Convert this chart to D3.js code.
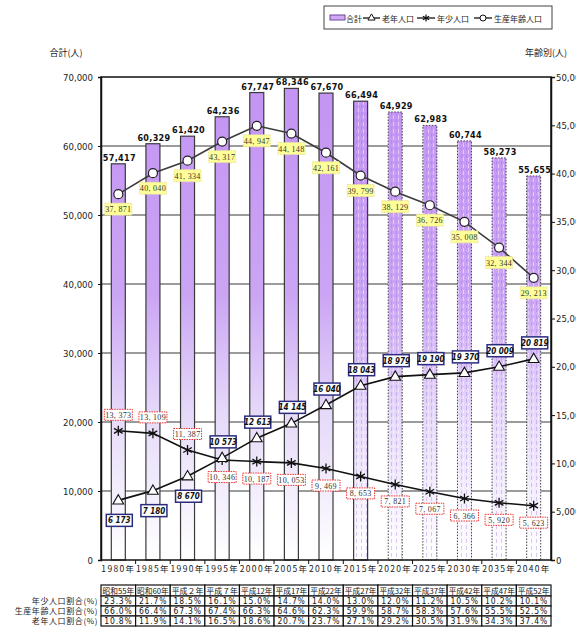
<!DOCTYPE html>
<html>
<head>
<meta charset="utf-8">
<script src="https://cdn.jsdelivr.net/npm/d3@7"></script>
<style>
  html, body { margin: 0; padding: 0; background: #fff; }
  svg { display: block; }
</style>
</head>
<body>
<svg id="chart" width="576" height="627"></svg>
<script>
// Census / projection years
const years = ["1980","1985","1990","1995","2000","2005","2010","2015","2020","2025","2030","2035","2040"];
const eraLabels = ["昭和55年","昭和60年","平成２年","平成７年","平成12年","平成17年","平成22年","平成27年","平成32年","平成37年","平成42年","平成47年","平成52年"];
// Population counts (persons)
const total   = [57417, 60329, 61420, 64236, 67747, 68346, 67670, 66494, 64929, 62983, 60744, 58273, 55655];
const working = [37871, 40040, 41334, 43317, 44947, 44148, 42161, 39799, 38129, 36726, 35008, 32344, 29213];
const young   = [13373, 13109, 11387, 10346, 10187, 10053, 9469, 8653, 7821, 7067, 6366, 5920, 5623];
const old     = [6173, 7180, 8670, 10573, 12613, 14145, 16040, 18043, 18979, 19190, 19370, 20009, 20819];
// Shares (%)
const youngPct   = [23.3, 21.7, 18.5, 16.1, 15.0, 14.7, 14.0, 13.0, 12.0, 11.2, 10.5, 10.2, 10.1];
const workingPct = [66.0, 66.4, 67.3, 67.4, 66.3, 64.6, 62.3, 59.9, 58.7, 58.3, 57.6, 55.5, 52.5];
const oldPct     = [10.8, 11.9, 14.1, 16.5, 18.6, 20.7, 23.7, 27.1, 29.2, 30.5, 31.9, 34.3, 37.4];
const rowLabels  = ["年少人口割合(%)", "生産年齢人口割合(%)", "老年人口割合(%)"];
const leftTicks  = [0, 10000, 20000, 30000, 40000, 50000, 60000, 70000];
const rightTicks = [0, 5000, 10000, 15000, 20000, 25000, 30000, 35000, 40000, 45000, 50000];
const firstTexturedYear = "2015";
const firstProjectedYear = "2020";

const svg = d3.select("#chart");
const L = 101, R = 551, T = 77, B = 560;
const jp = "'Noto Sans CJK JP', sans-serif";
const narrow = "'Liberation Sans Narrow', 'DejaVu Sans Condensed', 'Liberation Sans', sans-serif";
const serif = "'Liberation Serif', 'DejaVu Serif', serif";

const x = d3.scaleBand().domain(years).range([L, R]);
const yL = d3.scaleLinear().domain([0, 70000]).range([B, T]);
const yR = d3.scaleLinear().domain([0, 50000]).range([B, T]);
const cx = d => x(d) + x.bandwidth() / 2;
const fmt = d3.format(",");

const defs = svg.append("defs");
const grad = defs.append("linearGradient").attr("id", "barGrad")
  .attr("gradientUnits", "userSpaceOnUse").attr("x1", 0).attr("y1", T).attr("x2", 0).attr("y2", B);
[[0, "#c393f3"], [0.45, "#cba5f4"], [0.7, "#e6daf9"], [1, "#ffffff"]].forEach(([o, c]) =>
  grad.append("stop").attr("offset", o).attr("stop-color", c));
const pat = defs.append("pattern").attr("id", "streaks").attr("patternUnits", "userSpaceOnUse")
  .attr("width", 5).attr("height", 7);
pat.append("rect").attr("x", 1).attr("y", 0).attr("width", 1).attr("height", 4).attr("fill", "#9c6ae0").attr("opacity", 0.35);
pat.append("rect").attr("x", 3).attr("y", 3).attr("width", 1).attr("height", 4).attr("fill", "#ffffff").attr("opacity", 0.45);

// Plot background and horizontal grid
svg.append("rect").attr("x", L).attr("y", T).attr("width", R - L).attr("height", B - T).attr("fill", "#fff");
svg.append("g").selectAll("line").data(leftTicks.filter(t => t > 0 && t < 70000)).join("line")
  .attr("x1", L).attr("x2", R).attr("y1", d => yL(d)).attr("y2", d => yL(d))
  .attr("stroke", "#7a7a7a").attr("stroke-width", 1.5);

// Total population bars
const bw = 14;
const bars = svg.append("g");
years.forEach((yr, i) => {
  const bx = cx(yr) - bw / 2, by = yL(total[i]), bh = B - by;
  bars.append("rect").attr("x", bx).attr("y", by).attr("width", bw).attr("height", bh).attr("fill", "url(#barGrad)");
  if (+yr >= +firstTexturedYear) {
    bars.append("rect").attr("x", bx).attr("y", by).attr("width", bw).attr("height", bh).attr("fill", "url(#streaks)");
  }
  const projected = +yr >= +firstProjectedYear;
  bars.append("rect").attr("x", bx).attr("y", by).attr("width", bw).attr("height", bh)
    .attr("fill", "none").attr("stroke", projected ? "#444" : "#3a3a3a")
    .attr("stroke-width", projected ? 1 : 1.2)
    .attr("stroke-dasharray", projected ? "1.5,1.5" : null);
  bars.append("text").attr("x", cx(yr) + 1).attr("y", by - 3).attr("text-anchor", "middle")
    .attr("font-family", narrow).attr("font-weight", "bold").attr("font-size", 9)
    .attr("letter-spacing", 0.3).attr("fill", "#111").text(fmt(total[i]));
});

// Plot frame
svg.append("rect").attr("x", L).attr("y", T).attr("width", R - L).attr("height", B - T)
  .attr("fill", "none").attr("stroke", "#111").attr("stroke-width", 1.5);

// Axes
const axL = svg.append("g").attr("transform", `translate(${L},0)`)
  .call(d3.axisLeft(yL).tickValues(leftTicks).tickSize(3).tickFormat(fmt));
const axR = svg.append("g").attr("transform", `translate(${R},0)`)
  .call(d3.axisRight(yR).tickValues(rightTicks).tickSize(4).tickFormat(fmt));
[axL, axR].forEach(a => {
  a.select(".domain").attr("stroke", "#111").attr("stroke-width", 1.5);
  a.selectAll(".tick line").attr("stroke", "#111");
  a.selectAll("text").attr("font-family", narrow).attr("font-size", 9.5).attr("fill", "#222");
});
axL.selectAll("text").attr("x", -8);
axR.selectAll("text").attr("x", 5);

const axB = svg.append("g").attr("transform", `translate(0,${B})`)
  .call(d3.axisBottom(x).tickSize(0).tickFormat(d => d + "年"));
axB.select(".domain").remove();
axB.selectAll("text").attr("font-family", jp).attr("font-size", 8.5).attr("letter-spacing", 1.3)
  .attr("fill", "#222").attr("dy", "1.1em");
svg.append("g").selectAll("line").data(years.slice(1)).join("line")
  .attr("x1", d => x(d)).attr("x2", d => x(d)).attr("y1", B).attr("y2", B + 4)
  .attr("stroke", "#111");

// Axis titles
svg.append("text").attr("x", 66).attr("y", 56).attr("text-anchor", "middle")
  .attr("font-family", jp).attr("font-size", 9).attr("fill", "#222").text("合計(人)");
svg.append("text").attr("x", 546).attr("y", 56).attr("text-anchor", "middle")
  .attr("font-family", jp).attr("font-size", 9).attr("fill", "#222").text("年齢別(人)");

// Lines
const line = vals => d3.line().x((d, i) => cx(years[i])).y(d => yR(d))(vals);
svg.append("path").attr("d", line(working)).attr("fill", "none").attr("stroke", "#3c3c3c").attr("stroke-width", 1.6);
svg.append("path").attr("d", line(young)).attr("fill", "none").attr("stroke", "#111").attr("stroke-width", 1.6);
svg.append("path").attr("d", line(old)).attr("fill", "none").attr("stroke", "#111").attr("stroke-width", 1.6);

// Markers
const triPath = d3.symbol().type(d3.symbolTriangle).size(50)();
const starPath = d3.symbol().type(d3.symbolAsterisk).size(70)();
years.forEach((yr, i) => {
  svg.append("circle").attr("cx", cx(yr)).attr("cy", yR(working[i])).attr("r", 4.5)
    .attr("fill", "#fff").attr("stroke", "#222").attr("stroke-width", 1.2);
  svg.append("path").attr("d", starPath).attr("transform", `translate(${cx(yr)},${yR(young[i])})`)
    .attr("fill", "none").attr("stroke", "#111").attr("stroke-width", 1.3);
  svg.append("path").attr("d", triPath).attr("transform", `translate(${cx(yr)},${yR(old[i]) + 0.5})`)
    .attr("fill", "#fff").attr("stroke", "#111").attr("stroke-width", 1.1);
});

// Value boxes
function valueBox(xc, yc, txt, opt) {
  const g = svg.append("g");
  g.append("rect").attr("x", xc - opt.w / 2).attr("y", yc - opt.h / 2).attr("width", opt.w).attr("height", opt.h)
    .attr("fill", opt.fill).attr("stroke", opt.stroke).attr("stroke-width", opt.sw)
    .attr("stroke-dasharray", opt.dash || null);
  g.append("text").attr("x", xc).attr("y", yc + 3).attr("text-anchor", "middle")
    .attr("font-family", opt.font).attr("font-size", opt.fs).attr("font-weight", opt.weight || "normal")
    .attr("font-style", opt.style || "normal").attr("letter-spacing", opt.ls || 0)
    .attr("fill", opt.color).text(txt);
}
years.forEach((yr, i) => {
  const xc = cx(yr);
  valueBox(xc, yR(working[i]) + 15, fmt(working[i]).replace(",", ", "),
    { w: 27, h: 12, fill: "#ffff99", stroke: "#e6e0a0", sw: 1, dash: "1.5,1", font: serif, fs: 8, color: "#333", ls: 0.3 });
  const youngAbove = young[i] > old[i];
  valueBox(xc, yR(young[i]) + (youngAbove ? -16 : 17), fmt(young[i]).replace(",", ", "),
    { w: 28, h: 11, fill: "#fff", stroke: "#f03030", sw: 1, dash: "1.5,1", font: serif, fs: 8, color: "#333", ls: 0.3 });
  valueBox(xc + 1, yR(old[i]) + (youngAbove ? 20 : -16), fmt(old[i]).replace(",", " "),
    { w: 26, h: 12, fill: "#fff", stroke: "#2b2b80", sw: 1.5, font: narrow, fs: 8, weight: "bold", style: "italic", color: "#111" });
});

// Legend
const lg = svg.append("g");
lg.append("rect").attr("x", 324).attr("y", 6).attr("width", 228).attr("height", 23)
  .attr("fill", "#fff").attr("stroke", "#444").attr("stroke-width", 1);
lg.append("rect").attr("x", 330).attr("y", 15).attr("width", 15).attr("height", 5)
  .attr("fill", "#cfa8f6").attr("stroke", "#6a4a9a").attr("stroke-width", 1);
const legendText = (xp, t) => lg.append("text").attr("x", xp).attr("y", 21.5)
  .attr("font-family", jp).attr("font-size", 8).attr("fill", "#222").text(t);
legendText(346, "合計");
const legendLine = (x1, x2) => lg.append("line").attr("x1", x1).attr("x2", x2).attr("y1", 18).attr("y2", 18)
  .attr("stroke", "#111").attr("stroke-width", 1.3);
legendLine(363, 380);
lg.append("path").attr("d", d3.symbol().type(d3.symbolTriangle).size(22)())
  .attr("transform", "translate(371.5,18)").attr("fill", "#fff").attr("stroke", "#111");
legendText(382, "老年人口");
legendLine(417, 435);
lg.append("path").attr("d", d3.symbol().type(d3.symbolAsterisk).size(36)())
  .attr("transform", "translate(426,18)").attr("fill", "none").attr("stroke", "#111").attr("stroke-width", 1.2);
legendText(437, "年少人口");
legendLine(474, 492);
lg.append("circle").attr("cx", 483).attr("cy", 18).attr("r", 3).attr("fill", "#fff").attr("stroke", "#111");
legendText(494, "生産年齢人口");

// Share table
const tb = svg.append("g");
const rowTop = [585, 596, 606, 616], rowH = [11, 10, 10, 10];
years.forEach((yr, i) => {
  const x0 = x(yr), w = x.bandwidth();
  tb.append("rect").attr("x", x0).attr("y", rowTop[0]).attr("width", w).attr("height", rowH[0])
    .attr("fill", "#fff").attr("stroke", "#111").attr("stroke-width", 1.2);
  tb.append("text").attr("x", x0 + w / 2).attr("y", rowTop[0] + 8.5).attr("text-anchor", "middle")
    .attr("font-family", jp).attr("font-size", 7.5).attr("textLength", w - 3).attr("lengthAdjust", "spacingAndGlyphs")
    .attr("fill", "#111").text(eraLabels[i]);
  [youngPct, workingPct, oldPct].forEach((arr, r) => {
    const ty = rowTop[r + 1];
    tb.append("rect").attr("x", x0).attr("y", ty).attr("width", w).attr("height", rowH[r + 1])
      .attr("fill", "#fff").attr("stroke", "#111").attr("stroke-width", 1.2);
    tb.append("text").attr("x", x0 + w - 3).attr("y", ty + 8).attr("text-anchor", "end")
      .attr("font-family", narrow).attr("font-size", 8.5).attr("letter-spacing", 0.8)
      .attr("fill", "#111").text(arr[i].toFixed(1) + "%");
  });
});
rowLabels.forEach((t, r) => {
  tb.append("text").attr("x", 98).attr("y", rowTop[r + 1] + 8).attr("text-anchor", "end")
    .attr("font-family", jp).attr("font-size", 8).attr("letter-spacing", 0.6).attr("fill", "#222").text(t);
});
</script>
</body>
</html>
